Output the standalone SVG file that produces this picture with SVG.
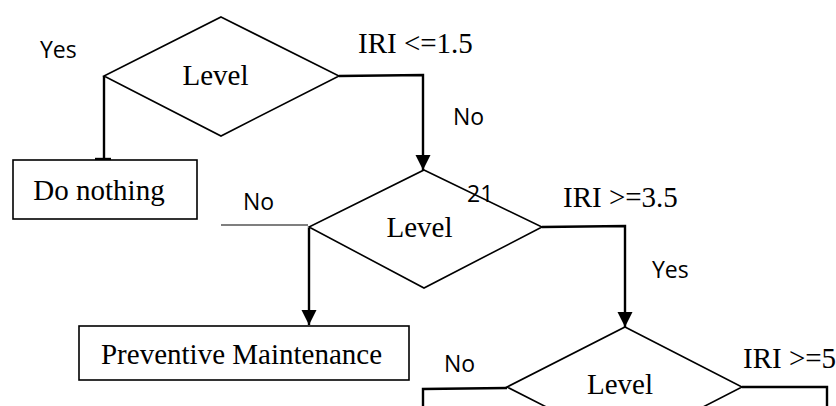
<svg xmlns="http://www.w3.org/2000/svg" width="836" height="406" viewBox="0 0 836 406">
<style>
.shape{fill:#fff;stroke:#000;stroke-width:1.6}
.conn{fill:none;stroke:#000;stroke-width:2.4}
.thin{fill:none;stroke:#000;stroke-width:1.2}
.serif{font-family:"Liberation Serif","Times New Roman",serif;font-size:29px;fill:#000}
.sans{font-family:"Open Sans","Noto Sans",sans-serif;font-size:23px;fill:#000}
</style>
<defs>
<marker id="arrow" markerUnits="userSpaceOnUse" markerWidth="16" markerHeight="16" refX="15" refY="7.5" orient="auto">
<path d="M0,0 L15,7.5 L0,15 Z" fill="#000"/>
</marker>
</defs>
<rect width="836" height="406" fill="#fff"/>
<g id="connectors">
<polyline class="conn" points="104,76 104,159"/>
<line x1="95" y1="159" x2="111" y2="159" stroke="#000" stroke-width="2.4"/>
<polyline class="conn" points="339,76 423,75 423,170" marker-end="url(#arrow)"/>
<line class="thin" x1="221" y1="225" x2="308" y2="225"/>
<polyline class="conn" points="309,228 309,325" marker-end="url(#arrow)"/>
<polyline class="conn" points="542,227 625,226 625,327" marker-end="url(#arrow)"/>
<polyline class="conn" points="507,388 423,389 423,406"/>
<polyline class="conn" points="742,387 827,387 827,406"/>
</g>
<g id="label-21"><text class="sans" x="467" y="202" font-size="25">21</text></g>
<g id="decision1">
<polygon class="shape" style="fill:none" points="221,17 339,76 221,136 104,76"/>
<text class="serif" x="215.5" y="85" text-anchor="middle">Level</text>
</g>
<g id="doNothing">
<rect class="shape" x="13" y="160" width="184" height="59"/>
<text class="serif" x="99" y="200" text-anchor="middle">Do nothing</text>
</g>
<g id="decision2">
<polygon class="shape" style="fill:none" points="424,170 542,227 424,288 309,227"/>
<text class="serif" x="419.5" y="237" text-anchor="middle">Level</text>
</g>
<g id="preventive">
<rect class="shape" x="79" y="326" width="330" height="54"/>
<text class="serif" x="241.5" y="364" text-anchor="middle">Preventive Maintenance</text>
</g>
<g id="decision3">
<polygon class="shape" style="fill:none" points="625,327 742,387 625,447 507,387"/>
<text class="serif" x="620" y="394" text-anchor="middle">Level</text>
</g>
<g id="labels">
<text class="sans" x="40" y="58">Yes</text>
<text class="serif" x="358" y="53">IRI &lt;=1.5</text>
<text class="sans" x="453" y="125">No</text>
<text class="sans" x="243" y="210">No</text>
<text class="serif" x="563" y="207">IRI &gt;=3.5</text>
<text class="sans" x="652" y="278">Yes</text>
<text class="sans" x="444" y="372">No</text>
<text class="serif" x="743" y="368">IRI &gt;=5</text>
</g>
</svg>
